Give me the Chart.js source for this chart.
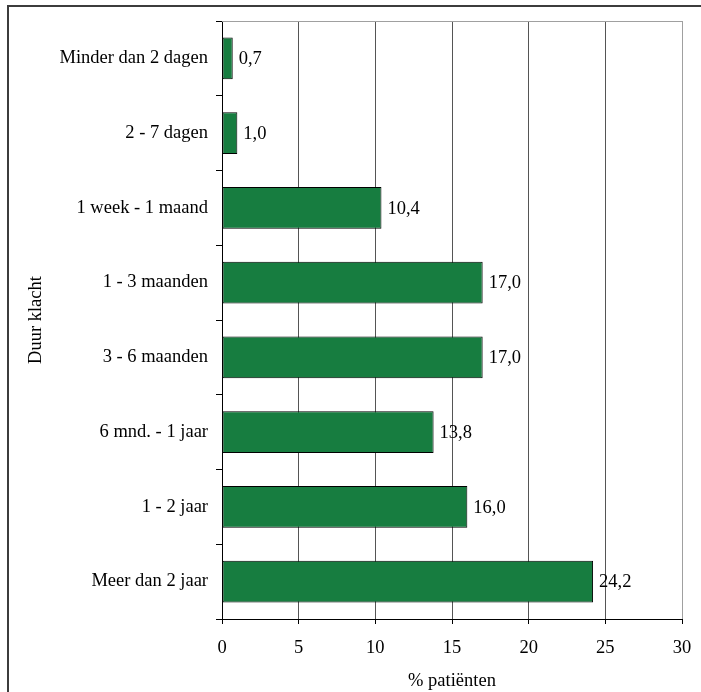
<!DOCTYPE html>
<html>
<head>
<meta charset="utf-8">
<script src="https://cdn.jsdelivr.net/npm/chart.js@4/dist/chart.umd.min.js"></script>
<style>
  html, body { margin: 0; padding: 0; background: #fff; }
  canvas { display: block; }
</style>
</head>
<body>
<canvas id="c" width="701" height="692"></canvas>
<script>
// Duur van de klacht en het aandeel patiënten per categorie
const categories = [
  'Minder dan 2 dagen',
  '2 - 7 dagen',
  '1 week - 1 maand',
  '1 - 3 maanden',
  '3 - 6 maanden',
  '6 mnd. - 1 jaar',
  '1 - 2 jaar',
  'Meer dan 2 jaar'
];
const percentages = [0.7, 1.0, 10.4, 17.0, 17.0, 13.8, 16.0, 24.2];
const xTicks = [0, 5, 10, 15, 20, 25, 30];

const FONT = { family: '"Liberation Serif", "Times New Roman", serif', size: 18.5 };

// Outer frame and the grey top/right plot edges
const framePlugin = {
  id: 'frame',
  beforeDraw(chart) {
    const ctx = chart.ctx;
    ctx.save();
    ctx.fillStyle = '#fff';
    ctx.fillRect(0, 0, chart.width, chart.height);
    ctx.fillStyle = '#3c3c3c';
    ctx.fillRect(7, 5, 2, chart.height);
    ctx.fillRect(7, 5, chart.width, 2);
    ctx.restore();
  },
  afterDraw(chart) {
    const { ctx, chartArea: a } = chart;
    ctx.save();
    ctx.strokeStyle = '#a0a0a0';
    ctx.lineWidth = 1;
    ctx.beginPath();
    ctx.moveTo(a.left, a.top + 0.5);
    ctx.lineTo(a.right + 0.5, a.top + 0.5);
    ctx.lineTo(a.right + 0.5, a.bottom);
    ctx.stroke();
    ctx.restore();
  }
};

// Value labels next to each bar, with a decimal comma
const valueLabels = {
  id: 'valueLabels',
  afterDatasetsDraw(chart) {
    const ctx = chart.ctx;
    const meta = chart.getDatasetMeta(0);
    ctx.save();
    ctx.font = `${FONT.size}px ${FONT.family}`;
    ctx.fillStyle = '#000';
    ctx.textAlign = 'left';
    ctx.textBaseline = 'middle';
    meta.data.forEach((bar, i) => {
      const txt = percentages[i].toFixed(1).replace('.', ',');
      ctx.fillText(txt, bar.x + 6, bar.y + 1);
    });
    ctx.restore();
  }
};

new Chart(document.getElementById('c'), {
  type: 'bar',
  data: {
    labels: categories,
    datasets: [{
      data: percentages,
      backgroundColor: '#177d40',
      borderColor: '#000',
      borderWidth: 1,
      borderSkipped: false,
      categoryPercentage: 1,
      barPercentage: 0.56
    }]
  },
  options: {
    indexAxis: 'y',
    responsive: false,
    devicePixelRatio: 1,
    animation: false,
    layout: { padding: { top: 21, right: 19, bottom: 0, left: 0 } },
    plugins: { legend: { display: false }, tooltip: { enabled: false } },
    scales: {
      x: {
        type: 'linear',
        min: 0,
        max: 30,
        afterBuildTicks(scale) { scale.ticks = xTicks.map(v => ({ value: v })); },
        afterFit(scale) {
          scale.height = 73;
          scale.paddingLeft = 0;
          scale.paddingRight = 0;
        },
        grid: {
          color: ctx => (ctx.tick && ctx.tick.value === 0) ? '#000' : (ctx.tick && ctx.tick.value === 30 ? '#a0a0a0' : '#555'),
          tickColor: '#000',
          tickLength: 5,
          drawOnChartArea: true
        },
        border: { display: true, color: '#000', width: 1 },
        ticks: { color: '#000', font: FONT, padding: 13, maxRotation: 0 },
        title: {
          display: true,
          text: '% patiënten',
          color: '#000',
          font: FONT,
          padding: { top: 0, bottom: 0 }
        }
      },
      y: {
        type: 'category',
        afterFit(scale) {
          scale.width = 222;
          scale.paddingTop = 0;
          scale.paddingBottom = 0;
        },
        grid: {
          offset: true,
          drawOnChartArea: false,
          tickColor: '#000',
          tickLength: 6
        },
        border: { display: true, color: '#000', width: 1 },
        ticks: { color: '#000', font: FONT, padding: 8, autoSkip: false },
        title: {
          display: true,
          text: 'Duur klacht',
          color: '#000',
          font: FONT,
          padding: { top: 25, bottom: 0 }
        }
      }
    }
  },
  plugins: [framePlugin, valueLabels]
});
</script>
</body>
</html>
